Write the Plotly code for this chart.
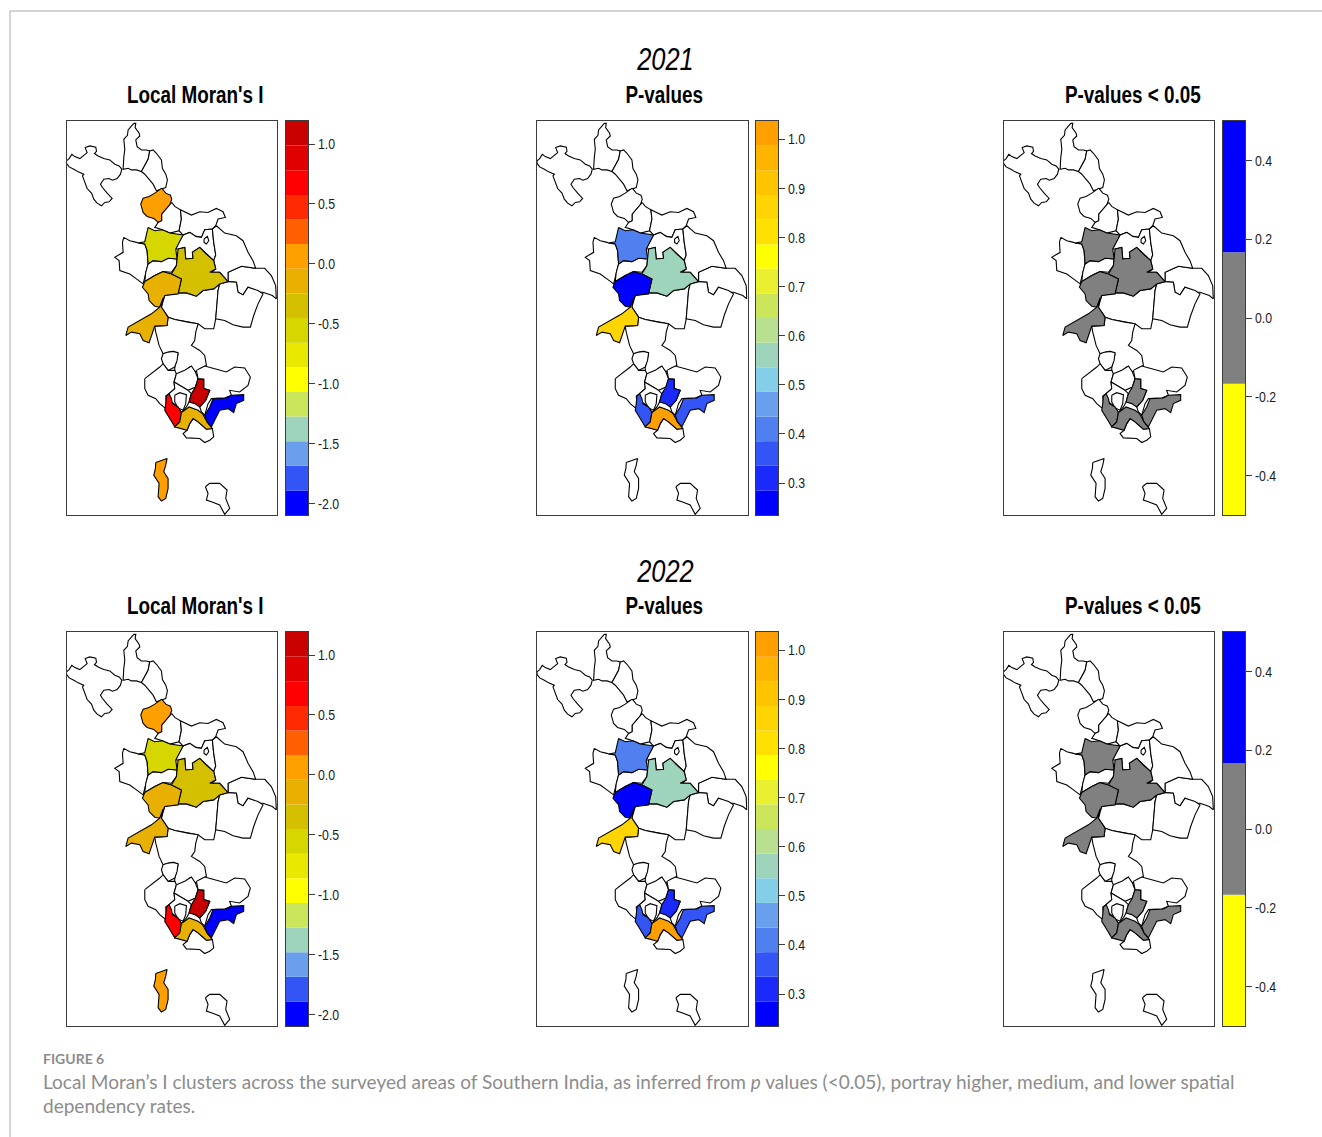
import plotly.graph_objects as go

W, H = 1322, 1137

# ---- district outlines (map units) ----
NW = [(20,125),(28,118),(36,105),(45,112),(60,118),(72,108),(82,100),(76,85),(90,80),(108,84),(110,96),(104,103),(115,110),(132,118),(150,122),(165,135),(178,140),(186,150),(182,165),(172,178),(158,183),(148,178),(132,180),(122,195),(128,205),(142,222),(157,238),(148,248),(135,250),(125,260),(112,252),(102,240),(95,222),(82,208),(68,170),(72,165),(55,158),(42,150),(28,143),(20,132)]
N1 = [(222,12),(228,12),(226,25),(238,42),(240,50),(228,62),(232,82),(245,92),(260,92),(270,95),(265,120),(255,140),(245,157),(230,152),(215,152),(205,147),(190,150),(192,115),(195,90),(192,60),(203,48),(205,32),(215,22)]
N2 = [(270,95),(280,92),(290,102),(305,122),(308,148),(318,165),(323,182),(318,205),(303,210),(290,215),(280,195),(268,180),(255,165),(245,157),(255,140),(265,120)]
ORG = [(306,207),(318,222),(332,228),(336,240),(330,258),(318,270),(306,285),(306,305),(295,310),(282,298),(262,292),(250,280),(243,255),(250,237),(268,232),(285,222)]
E1 = [(336,250),(345,262),(362,272),(365,300),(358,335),(330,342),(308,332),(285,325),(295,310),(306,305),(306,285),(318,270),(330,258)]
F1 = [(362,272),(380,280),(395,288),(420,278),(445,280),(470,268),(490,278),(497,295),(475,300),(468,320),(458,330),(435,332),(425,355),(408,352),(390,340),(370,348),(358,335),(365,300)]
G1 = [(265,325),(285,335),(308,332),(330,342),(370,348),(355,375),(348,390),(352,420),(325,418),(305,428),(280,425),(265,435),(262,395),(255,375),(235,372),(255,368)]
H1 = [(192,355),(210,365),(230,370),(235,372),(255,375),(262,395),(265,435),(258,460),(250,495),(230,480),(210,465),(180,455),(178,425),(165,415),(190,400),(188,370)]
I1 = [(265,435),(280,425),(305,428),(325,418),(352,420),(350,440),(335,460),(310,458),(285,470),(255,488),(258,460)]
J1 = [(370,348),(390,340),(408,352),(425,355),(435,332),(458,330),(462,370),(468,408),(462,425),(440,405),(420,385),(398,400),(400,418),(378,420),(375,385),(355,390),(348,390),(355,375)]
J2 = [(433,360),(443,352),(447,365),(440,375),(433,370)]
K1 = [(355,390),(375,385),(378,420),(400,418),(398,400),(420,385),(440,405),(462,425),(468,450),(450,460),(480,460),(505,488),(480,495),(462,510),(430,515),(410,532),(380,522),(355,522),(365,480),(335,465),(350,440),(352,420)]
L1 = [(310,458),(335,465),(365,480),(355,525),(315,530),(300,565),(285,562),(268,545),(265,525),(248,505),(255,488),(285,470)]
M1 = [(310,538),(305,565),(325,595),(322,620),(285,622),(275,655),(268,672),(250,665),(240,645),(215,640),(198,650),(205,625),(240,605),(275,585),(300,565)]
N3 = [(315,530),(355,522),(380,522),(410,532),(430,515),(462,510),(480,495),(475,515),(472,555),(468,600),(462,630),(435,630),(415,615),(385,610),(345,602),(325,595),(305,565)]
O1 = [(505,460),(545,442),(588,448),(615,448),(635,470),(648,500),(650,540),(638,530),(610,520),(595,520),(565,505),(550,528),(535,520),(530,490),(505,488)]
O2 = [(480,495),(505,488),(530,490),(535,520),(550,528),(565,505),(595,515),(610,525),(595,555),(582,590),(572,625),(550,625),(520,618),(495,605),(468,600),(472,555),(475,515)]
O3 = [(470,320),(495,342),(530,350),(550,365),(565,400),(580,425),(588,448),(545,442),(505,460),(505,488),(480,460),(455,460),(468,450),(462,425),(468,408),(462,370),(458,330)]
P1 = [(325,595),(345,602),(385,610),(415,615),(408,640),(405,665),(395,680),(420,695),(435,710),(440,740),(420,750),(408,760),(390,745),(365,765),(350,775),(345,762),(345,745),(355,705),(340,698),(320,702),(310,705),(298,680),(292,660),(288,640),(285,622),(322,620)]
Q1 = [(310,705),(325,700),(340,698),(355,702),(352,725),(345,745),(325,755),(310,735),(305,720)]
R1 = [(255,780),(282,760),(300,745),(310,735),(325,755),(345,755),(350,765),(343,790),(345,810),(328,825),(318,832),(320,855),(318,870),(300,855),(288,840),(265,830),(255,810)]
S1 = [(350,765),(375,755),(395,742),(407,760),(415,780),(407,805),(385,815),(343,790)]
T1 = [(410,755),(435,742),(465,750),(500,760),(525,745),(555,748),(572,775),(565,800),(540,820),(510,815),(515,830),(495,838),(455,840),(445,855),(435,890),(425,880),(420,865),(438,845),(450,815),(432,810),(432,782),(415,780)]
U1 = [(415,780),(432,782),(432,810),(450,815),(438,845),(420,865),(405,855),(388,850),(395,825),(407,805)]
V1 = [(328,825),(345,810),(343,790),(385,815),(395,825),(388,850),(380,865),(365,882),(355,865),(335,850)]
V2 = [(345,830),(360,822),(380,828),(378,855),(370,875),(355,868),(345,850)]
W1 = [(320,832),(328,825),(335,840),(338,855),(355,865),(365,882),(360,910),(345,925),(330,900),(315,875),(318,855)]
X1 = [(365,882),(388,865),(415,875),(428,885),(442,910),(458,930),(440,932),(415,910),(400,900),(390,915),(382,935),(355,928),(345,925),(360,910)]
Y1 = [(460,840),(500,838),(515,830),(552,828),(552,845),(530,855),(522,882),(505,870),(480,875),(468,900),(455,925),(442,910),(435,890),(450,865)]
Z1 = [(382,935),(390,915),(400,900),(415,910),(440,932),(458,930),(462,955),(450,965),(435,972),(420,960),(380,958),(370,945)]
AA = [(288,1032),(305,1025),(322,1020),(318,1040),(312,1060),(325,1080),(325,1110),(318,1140),(305,1148),(295,1135),(298,1095),(282,1070),(287,1050)]
AB = [(437,1105),(450,1095),(480,1095),(502,1115),(498,1140),(510,1170),(495,1188),(480,1160),(455,1150),(440,1145),(445,1125)]

OUTLINES = {"NW":NW,"N1":N1,"N2":N2,"ORG":ORG,"E1":E1,"F1":F1,"H1":H1,"I1":I1,"J1":J1,"J2":J2,"N3":N3,"O1":O1,"O2":O2,"O3":O3,
            "P1":P1,"Q1":Q1,"R1":R1,"S1":S1,"T1":T1,"V1":V1,"V2":V2,"Z1":Z1,"AB":AB,
            "G1":G1,"K1":K1,"L1":L1,"M1":M1,"U1":U1,"W1":W1,"X1":X1,"Y1":Y1,"AA":AA}

# ---- values ----
MORAN_2021 = {"ORG":0.0,"G1":-0.6,"K1":-0.4,"L1":-0.15,"M1":-0.15,"U1":1.1,"W1":0.75,"X1":-0.15,"Y1":-2.0,"AA":0.0}
MORAN_2022 = {"ORG":0.0,"G1":-0.6,"K1":-0.4,"L1":-0.15,"M1":-0.15,"U1":1.1,"W1":0.75,"X1":-0.15,"Y1":-2.0,"AA":0.0}
PVAL_2021 = {"G1":0.43,"K1":0.58,"L1":0.26,"M1":0.86,"U1":0.31,"W1":0.36,"X1":1.0,"Y1":0.36}
PVAL_2022 = {"G1":0.43,"K1":0.58,"L1":0.26,"M1":0.86,"U1":0.31,"W1":0.36,"X1":1.0,"Y1":0.36}
SIG_2021 = {"G1":0.0,"K1":0.0,"L1":0.0,"M1":0.0,"U1":0.0,"W1":0.0,"X1":0.0,"Y1":0.0}
SIG_2022 = {"G1":0.0,"K1":0.0,"L1":0.0,"M1":0.0,"U1":0.0,"W1":0.0,"X1":0.0,"Y1":0.0}

MORAN_COLORS = ["#0000FF","#3355F5","#6A9FEE","#9ED4BC","#CCE65C","#FFFF00","#E8E800","#D6D600","#D4C000","#E8B000","#FFA000","#FF5F00","#FF2A00","#FF0000","#E00000","#C80000"]
PVAL_COLORS = ["#0000FF","#1A2AFA","#3355F5","#5080F0","#6A9FEE","#85CEE8","#9ED4BC","#B8E090","#CCE65C","#E8F030","#FFFF00","#FFE000","#FFD400","#FFC400","#FFB400","#FFA000"]
SIG_COLORS = ["#FFFF00","#808080","#0000FF"]

MORAN_RANGE = (-2.096, 1.192)
PVAL_RANGE = (0.235, 1.037)
SIG_RANGE = (-0.5, 0.5)
MORAN_TICKS = [-2.0,-1.5,-1.0,-0.5,0.0,0.5,1.0]
PVAL_TICKS = [0.3,0.4,0.5,0.6,0.7,0.8,0.9,1.0]
SIG_TICKS = [-0.4,-0.2,0.0,0.2,0.4]

TITLES = ["Local Moran's I","P-values","P-values < 0.05"]
YEARS = ["2021","2022"]

# ---- geometry of the page (px) ----
MAP_LEFT = [66.5, 537, 1003.5]
MAP_W = 210.5
BAR_LEFT = [285.5, 755.5, 1222.5]
BAR_W = 22.5
ROW_TOP = [121, 632]
ROW_H = 394
TITLE_X = [195.5, 664, 1132.5]
PLOT_FONT = "Liberation Sans"
INK = "#3c3c3c"

def px(x): return x / W
def py(y): return 1 - y / H

def band(value, colors, rng):
    i = int((value - rng[0]) / (rng[1] - rng[0]) * len(colors))
    return colors[max(0, min(len(colors) - 1, i))]

PANELS = [
    [(MORAN_2021, MORAN_COLORS, MORAN_RANGE, MORAN_TICKS), (PVAL_2021, PVAL_COLORS, PVAL_RANGE, PVAL_TICKS), (SIG_2021, SIG_COLORS, SIG_RANGE, SIG_TICKS)],
    [(MORAN_2022, MORAN_COLORS, MORAN_RANGE, MORAN_TICKS), (PVAL_2022, PVAL_COLORS, PVAL_RANGE, PVAL_TICKS), (SIG_2022, SIG_COLORS, SIG_RANGE, SIG_TICKS)],
]

fig = go.Figure()
axes = {}
n = 1
for r, row in enumerate(PANELS):
    top = ROW_TOP[r]
    ydom = [py(top + ROW_H), py(top)]
    for c, (vals, colors, rng, ticks) in enumerate(row):
        xn, yn = (f"x{n}", f"y{n}")
        for name, pts in OUTLINES.items():
            fill = band(vals[name], colors, rng) if name in vals else "#FFFFFF"
            fig.add_trace(go.Scatter(
                x=[p[0] for p in pts] + [pts[0][0]], y=[p[1] for p in pts] + [pts[0][1]],
                mode="lines", fill="toself", fillcolor=fill,
                line=dict(color="#000000", width=1.1), hoverinfo="skip", showlegend=False,
                xaxis=xn, yaxis=yn))
        axes[f"xaxis{n}"] = dict(domain=[px(MAP_LEFT[c]), px(MAP_LEFT[c] + MAP_W)], range=[20, 652], anchor=yn,
                                 showticklabels=False, ticks="", showgrid=False, zeroline=False,
                                 showline=True, mirror=True, linecolor=INK, linewidth=1)
        axes[f"yaxis{n}"] = dict(domain=ydom, range=[1190, 5], anchor=xn,
                                 showticklabels=False, ticks="", showgrid=False, zeroline=False,
                                 showline=True, mirror=True, linecolor=INK, linewidth=1)
        n += 1
        xn, yn = (f"x{n}", f"y{n}")
        step = (rng[1] - rng[0]) / len(colors)
        fig.add_trace(go.Bar(
            x=[0] * len(colors), y=[step] * len(colors),
            base=[rng[0] + i * step for i in range(len(colors))],
            width=1, marker=dict(color=colors, line=dict(width=0)),
            hoverinfo="skip", showlegend=False, xaxis=xn, yaxis=yn))
        axes[f"xaxis{n}"] = dict(domain=[px(BAR_LEFT[c]), px(BAR_LEFT[c] + BAR_W)], range=[-0.5, 0.5], anchor=yn,
                                 showticklabels=False, ticks="", showgrid=False, zeroline=False,
                                 showline=True, mirror=True, linecolor=INK, linewidth=1)
        axes[f"yaxis{n}"] = dict(domain=ydom, range=list(rng), anchor=xn, side="right",
                                 tickvals=ticks, ticktext=[f"{t:.1f}" for t in ticks],
                                 ticks="outside", ticklen=6, tickcolor=INK, tickwidth=1,
                                 tickfont=dict(family=PLOT_FONT, size=15, color="#1a1a1a"),
                                 showgrid=False, zeroline=False,
                                 showline=True, mirror=True, linecolor=INK, linewidth=1)
        n += 1

annotations = []
def label(text, x, y, size, family=PLOT_FONT, color="#000000", anchor="center", weight="normal", style="normal"):
    annotations.append(dict(text=text, x=px(x), y=py(y), xref="paper", yref="paper", xanchor=anchor, yanchor="middle",
                            showarrow=False, align="left",
                            font=dict(family=family, size=size, color=color, weight=weight, style=style)))

for r, top in enumerate(ROW_TOP):
    label(YEARS[r], 664.5, top - 61, 31, style="italic")
    for c, t in enumerate(TITLES):
        label(t, TITLE_X[c], top - 26, 23, weight="bold")

CAP = "#8c8c8c"
label("<b>FIGURE 6</b>", 41, 1058.5, 14, family="Lato", color=CAP, anchor="left")
label("Local Moran\u2019s I clusters across the surveyed areas of Southern India, as inferred from <i>p</i> values (&lt;0.05), portray higher, medium, and lower spatial",
      41, 1081, 19.05, family="Lato", color=CAP, anchor="left")
label("dependency rates.", 41, 1105, 19.05, family="Lato", color=CAP, anchor="left")

shapes = [
    dict(type="line", xref="paper", yref="paper", x0=px(10), x1=px(10), y0=py(11), y1=0, line=dict(color="#a8a8a8", width=1)),
    dict(type="line", xref="paper", yref="paper", x0=px(10), x1=1, y0=py(11), y1=py(11), line=dict(color="#a8a8a8", width=1)),
]

fig.update_layout(width=W, height=H, autosize=False, margin=dict(l=0, r=0, t=0, b=0),
                  paper_bgcolor="#FFFFFF", plot_bgcolor="#FFFFFF", barmode="overlay",
                  showlegend=False, annotations=annotations, shapes=shapes, **axes)

# The reference's plot lettering is a narrowed Arial: condense the Liberation Sans labels to the same widths.
NARROW_JS = """
document.body.style.margin='0';document.body.style.overflow='hidden';
function narrow(t, recentre){
  if ((t.style.fontFamily || '').indexOf('Liberation') < 0) return;
  var w = t.getComputedTextLength();
  t.setAttribute('textLength', w * 0.82);
  t.setAttribute('lengthAdjust', 'spacingAndGlyphs');
  if (recentre) t.setAttribute('x', parseFloat(t.getAttribute('x') || 0) + w * 0.09);
}
document.querySelectorAll('text.annotation-text').forEach(function(t){ narrow(t, true); });
document.querySelectorAll('.yaxislayer-above text').forEach(function(t){ narrow(t, false); });
"""
fig.write_html("out.html", config={"displayModeBar": False}, post_script=NARROW_JS)
